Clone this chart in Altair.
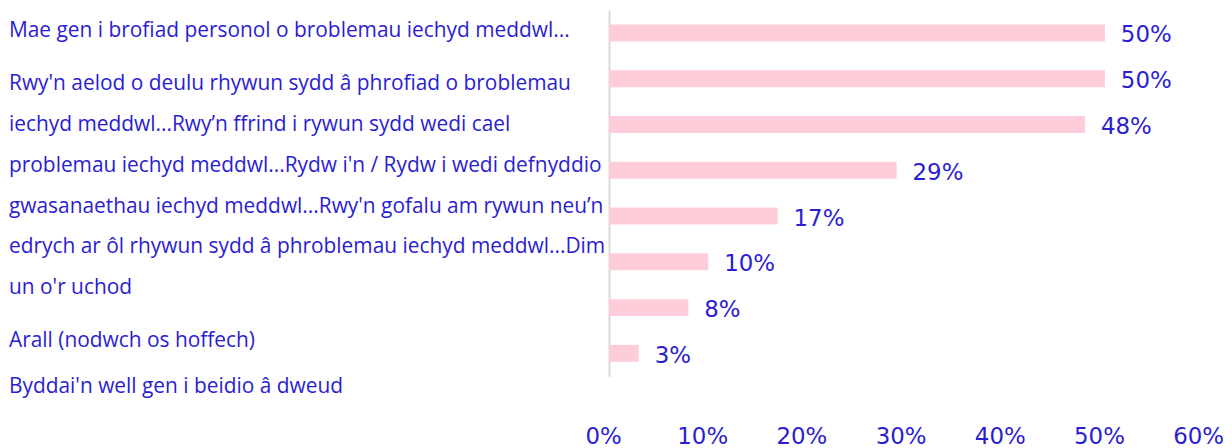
import altair as alt
import pandas as pd

# ---- data ----
categories = [
    "Mae gen i brofiad personol o broblemau iechyd meddwl",
    "Rwy'n aelod o deulu rhywun sydd â phrofiad o broblemau iechyd meddwl",
    "Rwy’n ffrind i rywun sydd wedi cael problemau iechyd meddwl",
    "Rydw i'n / Rydw i wedi defnyddio gwasanaethau iechyd meddwl",
    "Rwy'n gofalu am rywun neu’n edrych ar ôl rhywun sydd â phroblemau iechyd meddwl",
    "Dim un o'r uchod",
    "Arall (nodwch os hoffech)",
    "Byddai'n well gen i beidio â dweud",
]
values = [50, 50, 48, 29, 17, 10, 8, 3]
value_labels = ["50%", "50%", "48%", "29%", "17%", "10%", "8%", "3%"]
tick_values = [0, 10, 20, 30, 40, 50, 60]

# left-hand label text as it is displayed
first_label = "Mae gen i brofiad personol o broblemau iechyd meddwl..."
paragraph_lines = [
    "Rwy'n aelod o deulu rhywun sydd â phrofiad o broblemau",
    "iechyd meddwl...Rwy’n ffrind i rywun sydd wedi cael",
    "problemau iechyd meddwl...Rydw i'n / Rydw i wedi defnyddio",
    "gwasanaethau iechyd meddwl...Rwy'n gofalu am rywun neu’n",
    "edrych ar ôl rhywun sydd â phroblemau iechyd meddwl...Dim",
    "un o'r uchod",
]
last_labels = ["Arall (nodwch os hoffech)", "Byddai'n well gen i beidio â dweud"]

TEXT = "#2B1DD1"
PINK = "#FFCCD9"
FONT = "Open Sans"
NFONT = "DejaVu Sans"
LFS = 21
NFS = 23

bars_df = pd.DataFrame({"cat": categories, "value": values, "label": value_labels})
left_df = pd.DataFrame({
    "cat": [categories[0], categories[1], categories[6], categories[7]],
    "text": [first_label, "\n".join(paragraph_lines), last_labels[0], last_labels[1]],
    "group": ["first", "para", "last", "last"],
})

yscale = alt.Scale(domain=categories, paddingInner=0.63, paddingOuter=0.315)
H = 368

# ---- right panel: bars ----
base = alt.Chart(bars_df)
bars = base.mark_bar(color=PINK).encode(
    y=alt.Y("cat:N", sort=categories, scale=yscale,
            axis=alt.Axis(labels=False, ticks=False, title=None, grid=False,
                          domainColor="#d9d9d9", domainWidth=2)),
    x=alt.X("value:Q", scale=alt.Scale(domain=[0, 60], nice=False),
            axis=alt.Axis(values=tick_values, labelExpr="datum.value + '%'",
                          ticks=False, domain=False, grid=False, title=None,
                          labelFlush=False, labelOverlap=False, labelOffset=-6,
                          labelPadding=50, labelFontSize=NFS, labelColor=TEXT,
                          labelFont=NFONT)),
)
vlabels = base.mark_text(align="left", baseline="alphabetic", dx=16, dy=9.5,
                         fontSize=NFS, font=NFONT, color=TEXT).encode(
    y=alt.Y("cat:N", sort=categories, scale=yscale),
    x="value:Q",
    text="label:N",
)
right = alt.layer(bars, vlabels).properties(width=598, height=H)

# ---- left panel: labels ----
lbase = alt.Chart(left_df)
ly = alt.Y("cat:N", sort=categories, scale=yscale, axis=None)
t_first = lbase.transform_filter("datum.group == 'first'").mark_text(
    align="left", baseline="alphabetic", dy=4.5, fontSize=LFS, font=FONT, color=TEXT
).encode(y=ly, x=alt.value(0), text="text:N")
t_para = lbase.transform_filter("datum.group == 'para'").mark_text(
    align="left", baseline="alphabetic", dy=11.5, fontSize=LFS, font=FONT, color=TEXT,
    lineBreak="\n", lineHeight=41
).encode(y=ly, x=alt.value(0), text="text:N")
t_last = lbase.transform_filter("datum.group == 'last'").mark_text(
    align="left", baseline="alphabetic", dy=39.5, fontSize=LFS, font=FONT, color=TEXT
).encode(y=ly, x=alt.value(0), text="text:N")
left = alt.layer(t_first, t_para, t_last).properties(width=591, height=H)

chart = alt.hconcat(left, right, spacing=12, bounds="flush").properties(
    padding={"left": 1, "top": 1, "right": 0, "bottom": 0}
).configure_view(stroke=None)

chart.save("out.html", embed_options={"renderer": "svg", "actions": False})
